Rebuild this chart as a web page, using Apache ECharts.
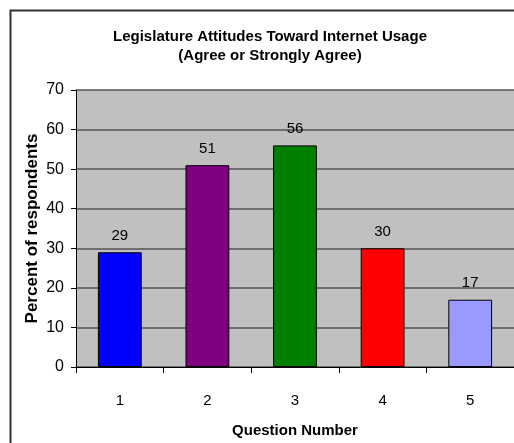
<!DOCTYPE html>
<html><head><meta charset="utf-8">
<script src="https://cdn.jsdelivr.net/npm/echarts@6/dist/echarts.min.js"></script>
<style>html,body{margin:0;padding:0;background:#fff}#c{width:514px;height:443px}</style>
</head><body><div id="c"></div>
<script>
var categories = ['1','2','3','4','5'];
var values = [29, 51, 56, 30, 17];
var barColors = ['#0000FF','#800080','#008000','#FF0000','#9999FF'];
var titleLines = ['Legislature Attitudes Toward Internet Usage','(Agree or Strongly Agree)'];
var yName = 'Percent of respondents';
var xName = 'Question Number';

var font = 'Liberation Sans, Arial, sans-serif';
var chart = echarts.init(document.getElementById('c'), null, {renderer:'canvas'});
chart.setOption({
  animation:false,
  backgroundColor:'#fff',
  graphic:[{type:'rect', shape:{x:10.5,y:10.5,width:600,height:600}, style:{fill:'none',stroke:'#333',lineWidth:2}, z:-1}],
  title:{text:titleLines.join('\n'), left:265, textAlign:'center', top:22,
    textStyle:{fontFamily:font, fontWeight:'bold', fontSize:15, lineHeight:19, color:'#000'}},
  grid:{left:76, right:0, top:90, bottom:74, backgroundColor:'#C0C0C0', show:true, borderWidth:0},
  xAxis:{type:'category', data:categories,
    name:xName, nameLocation:'middle', nameGap:56, nameMoveOverlap:false,
    nameTextStyle:{fontFamily:font, fontWeight:'bold', fontSize:15, color:'#000'},
    axisLine:{lineStyle:{color:'#000',width:1}},
    axisTick:{show:true, alignWithLabel:false, length:6, lineStyle:{color:'#000'}},
    axisLabel:{fontFamily:font, fontSize:15, color:'#000', margin:26},
    splitLine:{show:false}},
  yAxis:{type:'value', min:0, max:70, interval:10,
    name:yName, nameLocation:'middle', nameGap:35, nameRotate:90, nameMoveOverlap:false,
    nameTextStyle:{fontFamily:font, fontWeight:'bold', fontSize:17, color:'#000'},
    axisLine:{show:true, lineStyle:{color:'#000',width:1}},
    axisTick:{show:true, length:5, inside:false, lineStyle:{color:'#000'}},
    axisLabel:{fontFamily:font, fontSize:16, color:'#000', margin:12},
    splitLine:{show:true, lineStyle:{color:'#555',width:1.5}}},
  series:[{type:'bar', barWidth:'50%',
    data: values.map(function(v,i){return {value:v, itemStyle:{color:barColors[i]}};}),
    itemStyle:{borderColor:'#000', borderWidth:1},
    label:{show:true, position:'top', distance:9, fontFamily:font, fontSize:15, color:'#000'}}]
});
</script></body></html>
